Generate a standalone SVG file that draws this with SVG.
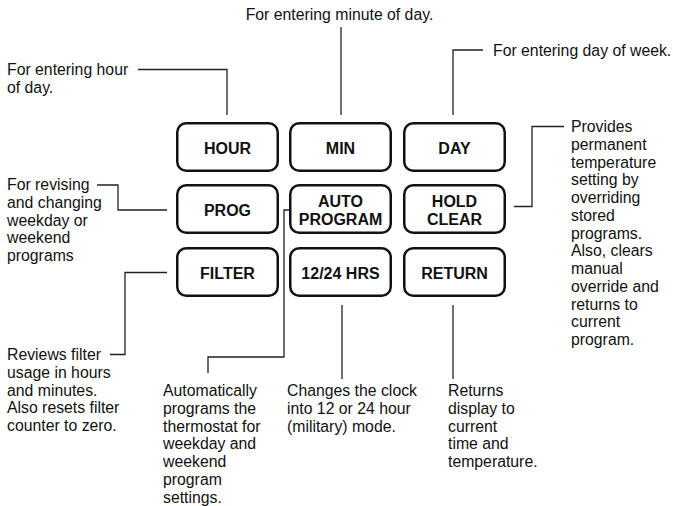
<svg xmlns="http://www.w3.org/2000/svg" width="673" height="506" viewBox="0 0 673 506">
<style>
.btn rect{fill:#fff;stroke:#111;stroke-width:2.5}
.btn text{font-family:"Liberation Sans",Arial,sans-serif;font-weight:bold;font-size:16px;fill:#111;text-anchor:middle}
.desc{font-family:"Liberation Sans",Arial,sans-serif;font-size:15.8px;fill:#111}
#connectors path{fill:none;stroke:#222;stroke-width:1.3}
</style>
<rect width="673" height="506" fill="#fff"/>
<g id="connectors">
<path d="M138 69.5H227V115"/>
<path d="M341 27V115"/>
<path d="M483 50H453V115"/>
<path d="M97 185H118V210H167"/>
<path d="M514 206.5H532V126.5H564"/>
<path d="M167 272.5H125V354.5H110"/>
<path d="M289 210H284V357H208V373"/>
<path d="M342 305V379"/>
<path d="M453 305V379"/>
</g>
<g id="hour" class="btn"><rect x="177.25" y="123.25" width="100.5" height="47.5" rx="9"/><text x="227.5" y="153.5">HOUR</text></g>
<g id="min" class="btn"><rect x="290.25" y="123.25" width="100.5" height="47.5" rx="9"/><text x="340.5" y="153.5">MIN</text></g>
<g id="day" class="btn"><rect x="404.25" y="123.25" width="100.5" height="47.5" rx="9"/><text x="454.5" y="153.5">DAY</text></g>
<g id="prog" class="btn"><rect x="177.25" y="185.25" width="100.5" height="47.5" rx="9"/><text x="227.5" y="216">PROG</text></g>
<g id="autoprogram" class="btn"><rect x="290.25" y="185.25" width="100.5" height="47.5" rx="9"/><text x="340.5" y="206.5">AUTO</text><text x="340.5" y="224.5">PROGRAM</text></g>
<g id="holdclear" class="btn"><rect x="404.25" y="185.25" width="100.5" height="47.5" rx="9"/><text x="454.5" y="206.5">HOLD</text><text x="454.5" y="224.5">CLEAR</text></g>
<g id="filter" class="btn"><rect x="177.25" y="248.25" width="100.5" height="47.5" rx="9"/><text x="227.5" y="279">FILTER</text></g>
<g id="hrs" class="btn"><rect x="290.25" y="248.25" width="100.5" height="47.5" rx="9"/><text x="340.5" y="279">12/24 HRS</text></g>
<g id="return" class="btn"><rect x="404.25" y="248.25" width="100.5" height="47.5" rx="9"/><text x="454.5" y="279">RETURN</text></g>
<g id="desc-hour"><text class="desc" x="7" y="75">For entering hour<tspan x="7" dy="17.8">of day.</tspan></text></g>
<g id="desc-min"><text class="desc" x="339.5" y="20" text-anchor="middle">For entering minute of day.</text></g>
<g id="desc-day"><text class="desc" x="493" y="55.5">For entering day of week.</text></g>
<g id="desc-prog"><text class="desc" x="7" y="190">For revising<tspan x="7" dy="17.8">and changing</tspan><tspan x="7" dy="17.8">weekday or</tspan><tspan x="7" dy="17.8">weekend</tspan><tspan x="7" dy="17.8">programs</tspan></text></g>
<g id="desc-hold"><text class="desc" x="571" y="132">Provides<tspan x="571" dy="17.75">permanent</tspan><tspan x="571" dy="17.75">temperature</tspan><tspan x="571" dy="17.75">setting by</tspan><tspan x="571" dy="17.75">overriding</tspan><tspan x="571" dy="17.75">stored</tspan><tspan x="571" dy="17.75">programs.</tspan><tspan x="571" dy="17.75">Also, clears</tspan><tspan x="571" dy="17.75">manual</tspan><tspan x="571" dy="17.75">override and</tspan><tspan x="571" dy="17.75">returns to</tspan><tspan x="571" dy="17.75">current</tspan><tspan x="571" dy="17.75">program.</tspan></text></g>
<g id="desc-filter"><text class="desc" x="7" y="360">Reviews filter<tspan x="7" dy="17.8">usage in hours</tspan><tspan x="7" dy="17.8">and minutes.</tspan><tspan x="7" dy="17.8">Also resets filter</tspan><tspan x="7" dy="17.8">counter to zero.</tspan></text></g>
<g id="desc-auto"><text class="desc" x="163" y="396">Automatically<tspan x="163" dy="17.8">programs the</tspan><tspan x="163" dy="17.8">thermostat for</tspan><tspan x="163" dy="17.8">weekday and</tspan><tspan x="163" dy="17.8">weekend</tspan><tspan x="163" dy="17.8">program</tspan><tspan x="163" dy="17.8">settings.</tspan></text></g>
<g id="desc-hrs"><text class="desc" x="287" y="396">Changes the clock<tspan x="287" dy="17.8">into 12 or 24 hour</tspan><tspan x="287" dy="17.8">(military) mode.</tspan></text></g>
<g id="desc-return"><text class="desc" x="448" y="396">Returns<tspan x="448" dy="17.8">display to</tspan><tspan x="448" dy="17.8">current</tspan><tspan x="448" dy="17.8">time and</tspan><tspan x="448" dy="17.8">temperature.</tspan></text></g>
</svg>
